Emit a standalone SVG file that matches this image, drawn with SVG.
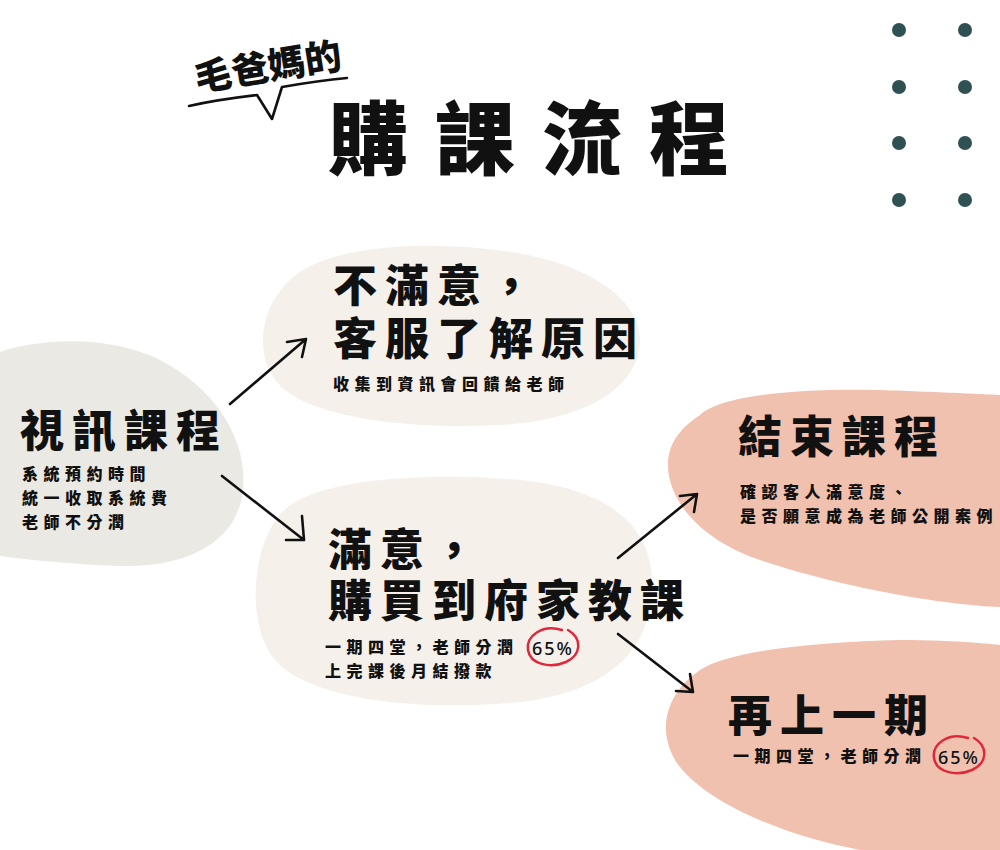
<svg xmlns="http://www.w3.org/2000/svg" width="1000" height="850" viewBox="0 0 1000 850">
<defs>
<style>
.h{font-family:"Noto Sans CJK TC","Noto Sans CJK SC",sans-serif;font-weight:900;fill:#111}
.big{font-size:44px;letter-spacing:8px}
.sm{font-size:16px;font-weight:900;letter-spacing:5.5px}
.num{font-family:"Noto Sans","Liberation Sans",sans-serif;font-weight:500;letter-spacing:2px;fill:#111}
.conn{fill:none;stroke:#111;stroke-width:2.6;stroke-linecap:round;stroke-linejoin:round}
.ring{fill:none;stroke:#e0283c;stroke-width:2.5;stroke-linecap:round}
.dot{fill:#2f5153}
</style>
</defs>
<rect width="1000" height="850" fill="#ffffff"/>
<g id="dots">
<circle class="dot" cx="899" cy="30" r="7"/><circle class="dot" cx="965" cy="30" r="7"/>
<circle class="dot" cx="899" cy="87" r="7"/><circle class="dot" cx="965" cy="87" r="7"/>
<circle class="dot" cx="899" cy="143" r="7"/><circle class="dot" cx="965" cy="143" r="7"/>
<circle class="dot" cx="899" cy="200" r="7"/><circle class="dot" cx="965" cy="200" r="7"/>
</g>
<g id="title">
<text class="h" x="268" y="80" font-size="37" text-anchor="middle" transform="rotate(-9 268 66)">毛爸媽的</text>
<path class="conn" d="M189,106 C215,100 240,97 257,95 L272,119 L282,87 C305,83 325,80 347,78" stroke-width="2.2"/>
<text class="h" x="328" y="168" font-size="80" letter-spacing="27">購課流程</text>
</g>
<g id="video">
<path d="M0,352 C40,338 110,335 160,360 C215,388 248,440 243,490 C238,540 190,568 120,566 C70,564 30,560 0,556 Z" fill="#ebe9e4"/>
<text class="h big" x="20" y="447">視訊課程</text>
<text class="h sm" x="22" y="480">系統預約時間</text>
<text class="h sm" x="22" y="504">統一收取系統費</text>
<text class="h sm" x="22" y="528">老師不分潤</text>
</g>
<g id="unsatisfied">
<path d="M300,272 C340,245 430,240 510,252 C590,264 640,300 640,340 C640,385 590,420 500,425 C410,430 320,418 285,390 C250,362 258,300 300,272 Z" fill="#f6f0ea"/>
<text class="h big" x="333" y="302">不滿意，</text>
<text class="h big" x="333" y="355">客服了解原因</text>
<text class="h sm" x="333" y="390">收集到資訊會回饋給老師</text>
</g>
<g id="satisfied">
<path d="M290,505 C330,478 430,472 520,480 C600,488 650,520 652,580 C654,640 620,690 520,702 C420,712 310,700 275,660 C245,625 250,535 290,505 Z" fill="#f6f0ea"/>
<text class="h big" x="328" y="566">滿意，</text>
<text class="h big" x="328" y="617">購買到府家教課</text>
<text class="h sm" x="325" y="653">一期四堂，老師分潤</text>
<text class="num" x="532" y="655" font-size="18">65%</text>
<path class="ring" d="M562,630 C542,624 526,636 528,650 C530,664 550,669 566,662 C581,655 583,639 568,630"/>
<text class="h sm" x="325" y="677">上完課後月結撥款</text>
</g>
<g id="end">
<path d="M700,415 C720,395 800,388 880,390 C940,392 1000,395 1000,395 L1000,607 C950,605 850,590 760,560 C700,540 668,500 668,465 C668,440 685,425 700,415 Z" fill="#f1c1af"/>
<text class="h big" x="738" y="453">結束課程</text>
<text class="h sm" x="740" y="498">確認客人滿意度、</text>
<text class="h sm" x="740" y="522">是否願意成為老師公開案例</text>
</g>
<g id="again">
<path d="M700,670 C730,650 820,642 900,640 C960,640 1000,645 1000,645 L1000,850 L860,850 C780,835 700,800 675,760 C655,725 670,690 700,670 Z" fill="#f1c1af"/>
<text class="h big" x="728" y="732">再上一期</text>
<text class="h sm" x="733" y="762">一期四堂，老師分潤</text>
<text class="num" x="938" y="764" font-size="18">65%</text>
<path class="ring" d="M968,738 C948,732 932,744 934,758 C936,772 956,777 972,770 C987,763 989,747 974,738"/>
</g>
<g id="connectors">
<path class="conn" d="M230,404 L306,339 M287,342 L306,339 L302,357"/>
<path class="conn" d="M222,476 L304,540 M286,540 L304,540 L302,516"/>
<path class="conn" d="M618,558 L697,494 M680,496 L697,494 L694,512"/>
<path class="conn" d="M618,634 L693,692 M676,691 L693,692 L690,674"/>
</g>
</svg>
